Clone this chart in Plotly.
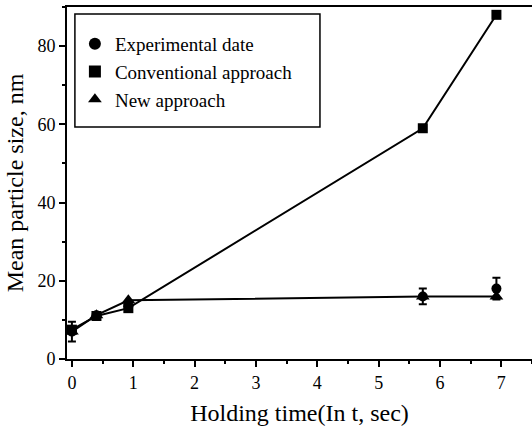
import plotly.graph_objects as go

# Data
time_x = [0.0, 0.4, 0.92, 5.72, 6.92]
exp_y = [7.0, 11.2, 13.5, 16.0, 18.0]
exp_err = [2.5, 0.8, 0.8, 2.0, 2.8]
conv_y = [7.5, 11.0, 13.0, 59.0, 88.0]
new_x = [0.0, 0.4, 0.92, 5.72, 6.92]
new_y = [7.0, 11.2, 15.0, 16.0, 16.0]

series_names = ["Experimental date", "Conventional approach", "New approach"]

FONT = "Liberation Serif"
fig = go.Figure()

# data traces
fig.add_trace(go.Scatter(x=time_x, y=conv_y, mode="lines+markers",
                         line=dict(color="black", width=2),
                         marker=dict(symbol="square", size=10, color="black"),
                         showlegend=False))
fig.add_trace(go.Scatter(x=new_x, y=new_y, mode="lines+markers",
                         line=dict(color="black", width=2),
                         marker=dict(symbol="triangle-up", size=12, color="black"),
                         showlegend=False))
fig.add_trace(go.Scatter(x=time_x, y=exp_y, mode="markers",
                         error_y=dict(type="data", array=exp_err, color="black",
                                      thickness=2, width=4),
                         marker=dict(symbol="circle", size=10, color="black"),
                         showlegend=False))

# legend-only entries (markers only)
symbols = ["circle", "square", "triangle-up"]
for i, (name, sym) in enumerate(zip(series_names, symbols)):
    fig.add_trace(go.Scatter(x=[None], y=[None], mode="markers", name=name,
                             legendgroup=f"g{i}",
                             marker=dict(symbol=sym, size=12, color="black")))

# legend frame
fig.add_shape(type="rect", xref="paper", yref="paper",
              x0=0.017, x1=0.544, y0=0.659, y1=0.98,
              line=dict(color="black", width=1.5), fillcolor="rgba(0,0,0,0)",
              layer="above")

fig.update_layout(
    width=532, height=428,
    margin=dict(l=67, r=0, t=7, b=69, autoexpand=False),
    plot_bgcolor="white", paper_bgcolor="white",
    font=dict(family=FONT, size=18, color="black"),
    legend=dict(x=0.017, y=0.949, xanchor="left", yanchor="top",
                borderwidth=0, bgcolor="rgba(0,0,0,0)",
                font=dict(family=FONT, size=19), tracegroupgap=0,
                itemwidth=30),
    xaxis=dict(range=[-0.08, 7.5], tickmode="linear", tick0=0, dtick=1,
               ticks="outside", ticklen=6, tickwidth=1.5, tickcolor="black",
               showline=True, linecolor="black", linewidth=2, mirror=True,
               showgrid=False, zeroline=False, automargin=False,
               minor=dict(dtick=0.5, ticks="outside", ticklen=3, tickcolor="black", tickwidth=1.5),
               title=dict(text="Holding time(In t, sec)", font=dict(family=FONT, size=24), standoff=13),
               tickfont=dict(family=FONT, size=18)),
    yaxis=dict(range=[0, 90], tickmode="linear", tick0=0, dtick=20,
               ticks="outside", ticklen=6, tickwidth=1.5, tickcolor="black",
               showline=True, linecolor="black", linewidth=2, mirror=False,
               showgrid=False, zeroline=False, automargin=False,
               minor=dict(dtick=10, ticks="outside", ticklen=3, tickcolor="black", tickwidth=1.5),
               title=dict(text="Mean particle size, nm", font=dict(family=FONT, size=24), standoff=7),
               tickfont=dict(family=FONT, size=18)),
)

fig.write_html("out.html", config={"displayModeBar": False},
               post_script="document.body.style.margin='0';document.body.style.padding='0';")
